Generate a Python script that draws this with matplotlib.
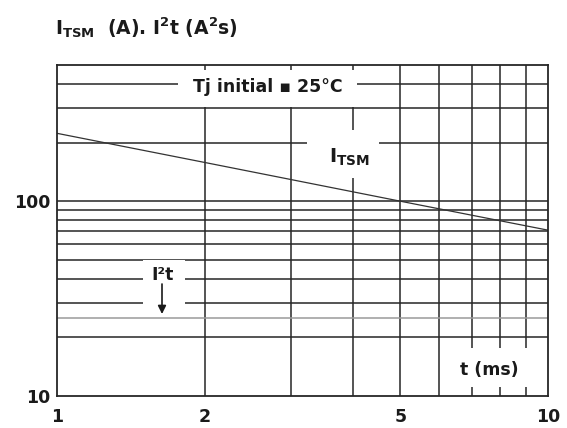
import matplotlib
matplotlib.use("Agg")
import matplotlib.pyplot as plt
from matplotlib.patches import Rectangle

# curve (log-log straight line)
t_ms = [1, 2, 5, 10]
itsm = [223, 158, 100, 71]

x_grid = [2, 3, 4, 5, 6, 7, 8, 9]
y_grid = [20, 30, 40, 50, 60, 70, 80, 90, 100, 200, 300, 400]
y_gray = [25]

x_ticks = [1, 2, 5, 10]
x_labels = ["1", "2", "5", "10"]
y_ticks = [10, 100]
y_labels = ["10", "100"]

plt.rcParams["font.family"] = "DejaVu Sans"
plt.rcParams["font.weight"] = "bold"
plt.rcParams["mathtext.fontset"] = "custom"
plt.rcParams["mathtext.rm"] = "DejaVu Sans:bold"
plt.rcParams["mathtext.bf"] = "DejaVu Sans:bold"
plt.rcParams["mathtext.it"] = "DejaVu Sans:bold"

W, H = 567, 428
fig = plt.figure(figsize=(W / 100, H / 100), dpi=100)
left, right, top, bottom = 57, 548, 65, 396
ax = fig.add_axes([left / W, 1 - bottom / H, (right - left) / W, (bottom - top) / H])

ax.set_xscale("log")
ax.set_yscale("log")
ax.set_xlim(1, 10)
ax.set_ylim(10, 500)

dark = "#262626"
for x in x_grid:
    ax.axvline(x, color=dark, lw=1.1, zorder=1)
for y in y_grid:
    ax.axhline(y, color=dark, lw=1.1, zorder=1)
for y in y_gray:
    ax.axhline(y, color="#9a9a9a", lw=1.1, zorder=1)

ax.plot(t_ms, itsm, color="#333333", lw=0.9, zorder=2)

for s in ax.spines.values():
    s.set_color(dark)
    s.set_linewidth(1.3)
    s.set_zorder(5)

ax.minorticks_off()
ax.set_xticks(x_ticks)
ax.set_xticklabels(x_labels)
ax.set_yticks(y_ticks)
ax.set_yticklabels(y_labels)
ax.tick_params(length=0, labelsize=12.5, colors="#1a1a1a")
ax.tick_params(axis="x", pad=9)
ax.tick_params(axis="y", pad=5)


def px(xp, yp):
    # pixel position inside the plot -> axes fraction
    return (xp - left) / (right - left), (bottom - yp) / (bottom - top)


def white_box(x0, y0, x1, y1):
    fx0, fy1 = px(x0, y0)
    fx1, fy0 = px(x1, y1)
    ax.add_patch(Rectangle((fx0, fy0), fx1 - fx0, fy1 - fy0, transform=ax.transAxes,
                           facecolor="white", edgecolor="none", zorder=3))


white_box(178, 70, 357, 107)
white_box(307, 130, 379, 178)
white_box(143, 260, 185, 305)
white_box(448, 348, 540, 387)

txt = dict(transform=ax.transAxes, ha="center", va="center", color="#1a1a1a", zorder=4)
ax.text(*px(268, 87), "Tj initial ▪ 25°C", fontsize=12.5, **txt)
ax.text(*px(349, 157), r"$\mathregular{I_{TSM}}$", fontsize=14, **txt)
ax.text(*px(163, 275), "I²t", fontsize=12.5, **txt)
ax.text(*px(489, 370), "t (ms)", fontsize=12.5, **txt)
ax.annotate("", xy=px(162, 314), xytext=px(162, 284), xycoords="axes fraction",
            arrowprops=dict(arrowstyle="-|>", color="#1a1a1a", lw=1.2,
                            mutation_scale=12, shrinkA=0, shrinkB=0), zorder=4)

fig.text(55 / W, 1 - 35 / H,
         r"$\mathregular{I_{TSM}}$  (A). I$\mathregular{^2}$t (A$\mathregular{^2}$s)",
         fontsize=13.5, ha="left", va="baseline", color="#1a1a1a")

fig.savefig("out.png", dpi=100)
